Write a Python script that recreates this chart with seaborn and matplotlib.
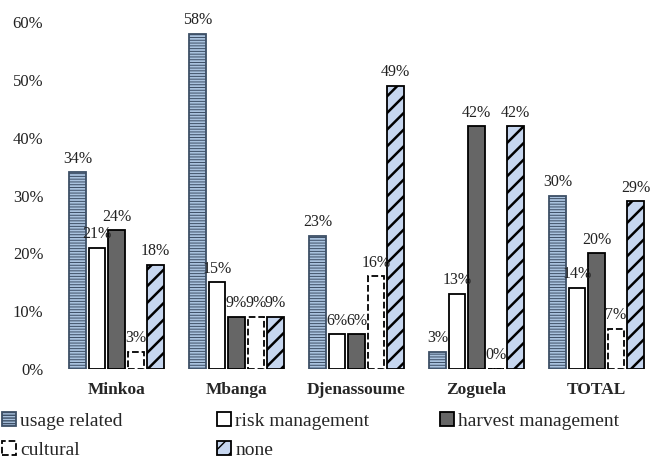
import matplotlib
matplotlib.use("Agg")
import matplotlib.pyplot as plt
import seaborn as sns
import pandas as pd
from matplotlib.patches import Patch

categories = ["Minkoa", "Mbanga", "Djenassoume", "Zoguela", "TOTAL"]
series = ["usage related", "risk management", "harvest management", "cultural", "none"]
usage_related = [34, 58, 23, 3, 30]
risk_management = [21, 15, 6, 13, 14]
harvest_management = [24, 9, 6, 42, 20]
cultural = [3, 9, 16, 0, 7]
none = [18, 9, 49, 42, 29]
yticks = [0, 10, 20, 30, 40, 50, 60]

values = [usage_related, risk_management, harvest_management, cultural, none]
rows = []
for s, vals in zip(series, values):
    for c, v in zip(categories, vals):
        rows.append({"category": c, "series": s, "value": v})
df = pd.DataFrame(rows)

sns.set_theme(style="white")
plt.rcParams["font.family"] = ["Liberation Serif", "DejaVu Serif"]
plt.rcParams["hatch.linewidth"] = 1.0
SERIF = "Liberation Serif"

styles = {
    "usage related": dict(fc="#a9c2de", ec="#3d4f66", hatch="------", ls="-", hlw=0.7),
    "risk management": dict(fc="white", ec="black", hatch=None, ls="-", hlw=1.0),
    "harvest management": dict(fc="#666666", ec="black", hatch=None, ls="-", hlw=1.0),
    "cultural": dict(fc="white", ec="black", hatch=None, ls="--", hlw=1.0),
    "none": dict(fc="#c6d6ef", ec="black", hatch="//", ls="-", hlw=1.8),
}

fig = plt.figure(figsize=(6.59, 4.58), dpi=100)
ax = fig.add_axes([56.5 / 659, 1 - 369 / 458, 600 / 659, (369 - 22) / 458])

sns.barplot(data=df, x="category", y="value", hue="series", order=categories,
            hue_order=series, width=0.81, gap=0.15, ax=ax, legend=False)

for cont, s in zip(ax.containers, series):
    st = styles[s]
    for p in cont:
        p.set_facecolor(st["fc"])
        p.set_edgecolor(st["ec"])
        p.set_linewidth(1.3)
        p.set_linestyle(st["ls"])
        if st["hatch"]:
            p.set_hatch(st["hatch"])
            if hasattr(p, "set_hatch_linewidth"):
                p.set_hatch_linewidth(st["hlw"])
    ax.bar_label(cont, labels=[f"{v:.0f}%" for v in cont.datavalues],
                 padding=4, fontsize=11.5, color="#222222", family=SERIF)

ax.set_ylim(0, 60)
ax.set_xlim(-0.5, 4.5)
ax.set_yticks(yticks)
ax.set_yticklabels([f"{t}%" for t in yticks], family=SERIF)
ax.tick_params(axis="y", length=0, pad=9.5, labelsize=12, labelcolor="#222222")
ax.tick_params(axis="x", length=0, pad=9, labelsize=12.5)
for lbl in ax.get_xticklabels():
    lbl.set_fontweight("bold")
    lbl.set_family(SERIF)
ax.set_xlabel("")
ax.set_ylabel("")
for sp in ax.spines.values():
    sp.set_visible(False)

legend_pos = {
    "usage related": (2, 421),
    "risk management": (217, 421),
    "harvest management": (440, 421),
    "cultural": (2, 450),
    "none": (217, 450),
}
for s in series:
    st = styles[s]
    h = Patch(facecolor=st["fc"], edgecolor=st["ec"], hatch=st["hatch"],
              linestyle=st["ls"], linewidth=1.3)
    x, y = legend_pos[s]
    fig.legend([h], [s], loc="center left", bbox_to_anchor=(x / 659, 1 - y / 458),
               frameon=False, borderpad=0, borderaxespad=0, handlelength=0.7,
               handleheight=0.7, handletextpad=0.25,
               prop=dict(family=SERIF, size=14))

fig.savefig("out.png", dpi=100)
